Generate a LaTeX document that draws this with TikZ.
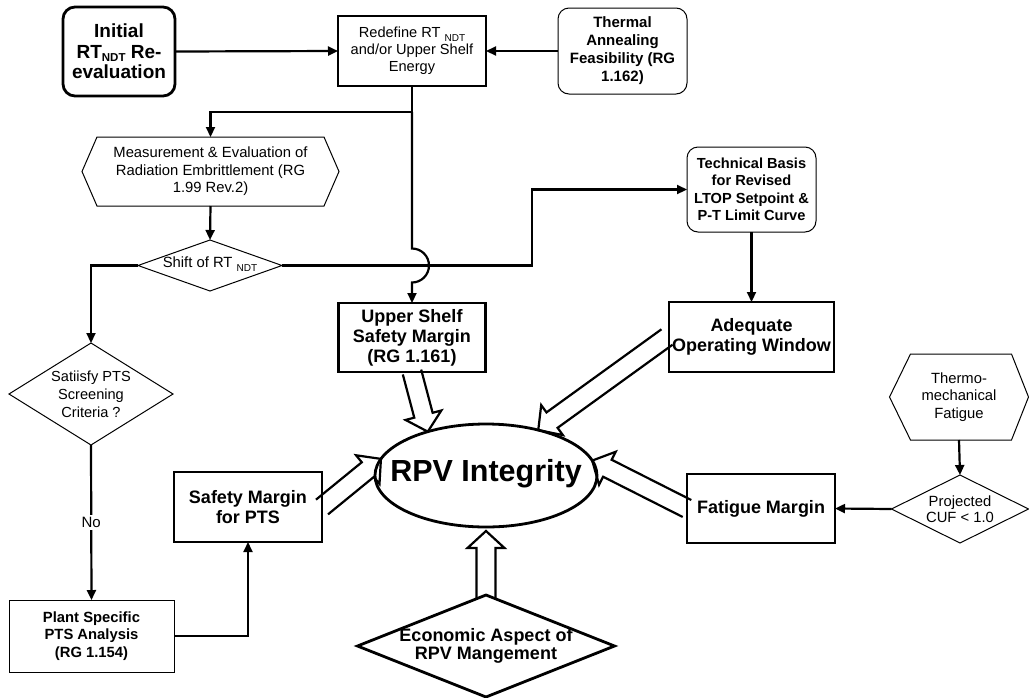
\documentclass[tikz,border=0pt]{standalone}
\usepackage{fontspec}
\setmainfont{Liberation Sans}
\usetikzlibrary{arrows.meta,shapes.geometric,calc}
\newcommand\fs[2]{\fontsize{#1}{#2}\selectfont}
\newcommand\subndt[1]{\raisebox{-4pt}{\fontsize{10}{10}\selectfont #1}}
\newcommand\blockarr[2]{%
  \path #1 coordinate (bas) #2 coordinate (bae);
  \path ($(bae)!17pt!(bas)$) coordinate (bab);
  \draw[hollow] ($(bas)!9.5pt!90:(bae)$) -- ($(bab)!9.5pt!90:(bae)$)
    -- ($(bab)!18.5pt!90:(bae)$) -- (bae) -- ($(bab)!18.5pt!-90:(bae)$)
    -- ($(bab)!9.5pt!-90:(bae)$) -- ($(bas)!9.5pt!-90:(bae)$);
}
\begin{document}
\begin{tikzpicture}[x=1pt,y=-1pt,
  every node/.style={outer sep=0pt, inner sep=1pt, align=center},
  tbox/.style={draw, line width=2.8pt},
  nbox/.style={draw, line width=1pt},
  rtbox/.style={draw, line width=2.8pt, rounded corners=12pt},
  rnbox/.style={draw, line width=1pt, rounded corners=11pt},
  ndiam/.style={draw, line width=1pt, diamond, inner sep=0pt},
  tdiam/.style={draw, line width=2.8pt, diamond, inner sep=0pt},
  hexarea/.style={inner sep=0pt},
  hexline/.style={line width=1pt, line join=miter},
  conn/.style={line width=2.2pt, -{Triangle[length=10pt,width=9pt]}},
  plain/.style={line width=2.2pt},
  hollow/.style={line width=2.2pt, line join=miter},
  nrm/.style={font=\fs{14.8}{17.5}},
  bld/.style={font=\bfseries\fs{14.6}{17.5}},
  big/.style={font=\bfseries\fs{18}{20}}
]
\useasboundingbox (0,0) rectangle (1029,697);

% boxes
\node[rtbox, minimum width=112pt, minimum height=89pt, font=\bfseries\fs{19}{20.5}] (init) at (119,51.5)
  {Initial\\RT\raisebox{-3.5pt}{\fontsize{11.5}{11.5}\selectfont NDT} Re-\\evaluation};
\node[tbox, minimum width=148pt, minimum height=70pt, font=\fs{14.6}{17}] (redef) at (412,51)
  {Redefine RT \subndt{NDT}\\and/or Upper Shelf\\Energy};
\node[rnbox, minimum width=129pt, minimum height=86pt, font=\bfseries\fs{15}{18}] (therm) at (622.5,51)
  {Thermal\\Annealing\\Feasibility (RG\\1.162)};
\node[rnbox, minimum width=129pt, minimum height=85pt, bld] (tech) at (751.5,189.5)
  {Technical Basis\\for Revised\\LTOP Setpoint \&\\P-T Limit Curve};
\node[tbox, minimum width=165pt, minimum height=70pt, font=\bfseries\fs{18}{19.5}] (adeq) at (751.5,337)
  {Adequate\\Operating Window};
\node[tbox, minimum width=147pt, minimum height=69pt, big] (usm) at (412,337.5)
  {Upper Shelf\\Safety Margin\\(RG 1.161)};
\node[tbox, minimum width=148pt, minimum height=70pt, big] (safe) at (248,507)
  {Safety Margin\\for PTS};
\node[tbox, minimum width=148pt, minimum height=69pt, font=\bfseries\fs{18}{20}] (fat) at (761,508.5)
  {Fatigue Margin};
\node[nbox, minimum width=165pt, minimum height=72pt, font=\bfseries\fs{14.8}{17.5}] (plant) at (91.5,636)
  {Plant Specific\\PTS Analysis\\(RG 1.154)};

% ellipse
\node[draw, ellipse, line width=2.8pt, minimum width=222pt, minimum height=103pt, inner sep=0pt] (rpv) at (486,475.5) {};
\node[font=\bfseries\fs{30.5}{32}] (rpvtxt) at (486,474) {RPV Integrity};

% diamonds
\node[ndiam, minimum width=164pt, minimum height=102pt] (sat) at (91,394) {};
\node[font=\fs{14.6}{18}] (sattxt) at (91,394) {Satiisfy PTS\\Screening\\Criteria ?};
\node[ndiam, minimum width=144pt, minimum height=51pt] (shift) at (210,265.5) {};
\node[nrm] (shifttxt) at (210,264) {Shift of RT \subndt{NDT}};
\node[ndiam, minimum width=137pt, minimum height=68pt] (proj) at (960,509) {};
\node[font=\fs{14.8}{16.5}] (projtxt) at (960,509) {Projected\\CUF < 1.0};
\node[tdiam, minimum width=257pt, minimum height=102pt] (econ) at (486,646) {};
\node[font=\bfseries\fs{18}{18}] (econtxt) at (486,645.5) {Economic Aspect of\\RPV Mangement};

% hexagons
\node[hexarea, minimum width=257pt, minimum height=69pt, nrm] (meas) at (210.5,171.5)
  {Measurement \& Evaluation of\\Radiation Embrittlement (RG\\1.99 Rev.2)};
\draw[hexline] (meas.west) -- ([xshift=15pt]meas.north west) -- ([xshift=-15pt]meas.north east)
  -- (meas.east) -- ([xshift=-15pt]meas.south east) -- ([xshift=15pt]meas.south west) -- cycle;
\node[hexarea, minimum width=139pt, minimum height=86pt, nrm] (thermo) at (959,397)
  {Thermo-\\mechanical\\Fatigue};
\draw[hexline] (thermo.west) -- ([xshift=21pt]thermo.north west) -- ([xshift=-17pt]thermo.north east)
  -- (thermo.east) -- ([xshift=-17pt]thermo.south east) -- ([xshift=21pt]thermo.south west) -- cycle;

% connectors
\draw[conn] (init.east) -- (redef.west);
\draw[conn] (therm.west) -- (redef.east);
\coordinate (j1) at (412,112);
\draw[plain] (redef.south) -- (j1);
\draw[conn] (j1) -| (meas.north);
\draw[conn] (j1) -- (412,248.5) arc[start angle=90,end angle=-90,radius=17pt] -- (usm.north);
\draw[conn] (meas.south) -- (shift.north);
\coordinate (k1) at (532,265.5);
\draw[conn] (shift.east) -- (k1) |- (tech.west);
\draw[conn] (shift.west) -| (sat.north);
\draw[conn] (sat.south) -- node[fill=white, inner sep=2pt, font=\fs{15}{17}] {No} (plant.north);
\draw[conn] (plant.east) -| (safe.south);
\draw[conn] (tech.south) -- (adeq.north);
\draw[conn] (thermo.south) -- (proj.north);
\draw[conn] (proj.west) -- (fat.east);

% hollow block arrows
\blockarr{(usm.south)}{(rpv.143)}
\blockarr{([xshift=-2pt]adeq.west)}{(rpv.41)}
\blockarr{(safe.east)}{(rpv.171)}
\blockarr{(fat.west)}{(rpv.8)}
\blockarr{([yshift=-3pt]econ.north)}{([yshift=-4pt]rpv.south)}
\end{tikzpicture}
\end{document}
